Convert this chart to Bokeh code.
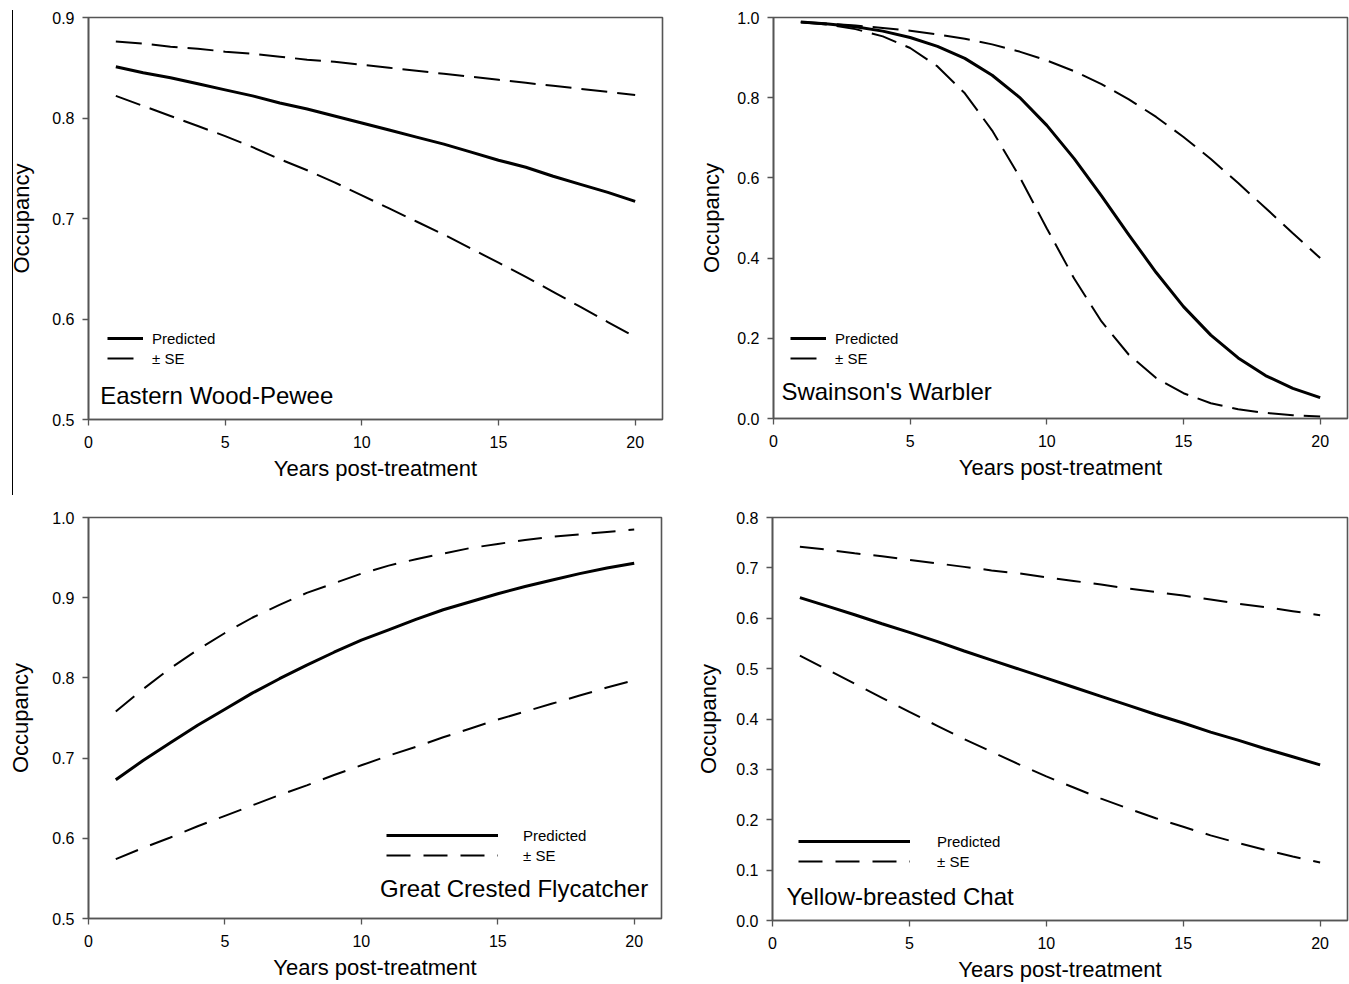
from bokeh.plotting import figure
from bokeh.models import Range1d, FixedTicker, PrintfTickFormatter, Legend, LegendItem, Label
from bokeh.layouts import column, row
from bokeh.embed import file_html
from bokeh.resources import INLINE

FONT = "Liberation Sans"

years = list(range(1, 21))

ewpe_pred = [0.851, 0.845, 0.840, 0.834, 0.828, 0.822, 0.815, 0.809, 0.802, 0.795,
             0.788, 0.781, 0.774, 0.766, 0.758, 0.751, 0.742, 0.734, 0.726, 0.717]
ewpe_hi = [0.876, 0.874, 0.871, 0.869, 0.866, 0.864, 0.861, 0.858, 0.856, 0.853,
           0.850, 0.847, 0.844, 0.841, 0.838, 0.835, 0.832, 0.829, 0.826, 0.823]
ewpe_lo = [0.822, 0.812, 0.802, 0.792, 0.782, 0.771, 0.759, 0.748, 0.736, 0.723,
           0.710, 0.697, 0.684, 0.670, 0.656, 0.642, 0.627, 0.612, 0.597, 0.582]

swwa_pred = [0.989, 0.984, 0.977, 0.966, 0.950, 0.928, 0.898, 0.856, 0.801, 0.731,
             0.648, 0.555, 0.458, 0.364, 0.279, 0.208, 0.151, 0.107, 0.075, 0.052]
swwa_hi = [0.989, 0.985, 0.980, 0.974, 0.967, 0.958, 0.947, 0.933, 0.915, 0.893,
           0.866, 0.834, 0.796, 0.752, 0.702, 0.647, 0.587, 0.525, 0.462, 0.400]
swwa_lo = [0.988, 0.982, 0.971, 0.953, 0.924, 0.878, 0.811, 0.718, 0.603, 0.474,
           0.349, 0.242, 0.159, 0.101, 0.063, 0.038, 0.023, 0.014, 0.008, 0.005]

gcfl_pred = [0.673, 0.697, 0.719, 0.741, 0.761, 0.781, 0.799, 0.816, 0.832, 0.847,
             0.860, 0.873, 0.885, 0.895, 0.905, 0.914, 0.922, 0.930, 0.937, 0.943]
gcfl_hi = [0.758, 0.786, 0.812, 0.835, 0.856, 0.875, 0.891, 0.906, 0.918, 0.930,
           0.940, 0.948, 0.955, 0.962, 0.967, 0.972, 0.976, 0.979, 0.982, 0.985]
gcfl_lo = [0.574, 0.588, 0.601, 0.615, 0.628, 0.641, 0.654, 0.666, 0.679, 0.691,
           0.703, 0.714, 0.726, 0.737, 0.748, 0.758, 0.768, 0.778, 0.788, 0.797]

ybch_pred = [0.641, 0.624, 0.607, 0.589, 0.572, 0.554, 0.535, 0.517, 0.499, 0.481,
             0.463, 0.445, 0.427, 0.409, 0.392, 0.374, 0.358, 0.341, 0.325, 0.309]
ybch_hi = [0.742, 0.736, 0.729, 0.723, 0.716, 0.709, 0.702, 0.695, 0.689, 0.681,
           0.674, 0.667, 0.659, 0.652, 0.645, 0.637, 0.629, 0.622, 0.614, 0.606]
ybch_lo = [0.526, 0.498, 0.470, 0.442, 0.414, 0.387, 0.360, 0.335, 0.310, 0.286,
           0.264, 0.242, 0.222, 0.203, 0.186, 0.169, 0.154, 0.140, 0.127, 0.115]

x_ticks = [0, 5, 10, 15, 20]
species = ["Eastern Wood-Pewee", "Swainson's Warbler", "Great Crested Flycatcher", "Yellow-breasted Chat"]
legend_labels = ["Predicted", "± SE"]
x_label = "Years post-treatment"
y_label = "Occupancy"

AX = "#555555"


def panel(pred, hi, lo, yr, yticks, name, name_xy, name_align,
          fw, fh, bl, br, bt, bb, dash, leg_loc, leg_gw, leg_standoff, ylab_standoff):
    p = figure(frame_width=fw, frame_height=fh,
               min_border_left=bl, min_border_right=br, min_border_top=bt, min_border_bottom=bb,
               x_range=Range1d(0, 21), y_range=Range1d(*yr),
               output_backend="svg", toolbar_location=None, tools="")
    p.xgrid.visible = False
    p.ygrid.visible = False
    p.outline_line_color = AX
    p.outline_line_width = 1.6
    p.background_fill_color = "white"
    for ax in (p.xaxis[0], p.yaxis[0]):
        ax.axis_line_color = AX
        ax.axis_line_width = 1.6
        ax.major_tick_line_color = AX
        ax.major_tick_line_width = 1.3
        ax.major_tick_out = 6
        ax.major_tick_in = 0
        ax.minor_tick_line_color = None
        ax.major_label_text_font = FONT
        ax.major_label_text_font_size = "16px"
        ax.major_label_text_color = "black"
        ax.axis_label_text_font = FONT
        ax.axis_label_text_font_size = "22px"
        ax.axis_label_text_font_style = "normal"
        ax.axis_label_text_color = "black"
    p.xaxis.ticker = FixedTicker(ticks=x_ticks)
    p.xaxis.formatter = PrintfTickFormatter(format="%d")
    p.yaxis.ticker = FixedTicker(ticks=yticks)
    p.yaxis.formatter = PrintfTickFormatter(format="%.1f")
    p.xaxis.axis_label = x_label
    p.yaxis.axis_label = y_label
    p.xaxis.major_label_standoff = 10
    p.yaxis.major_label_standoff = 8
    p.xaxis.axis_label_standoff = 5
    p.yaxis.axis_label_standoff = ylab_standoff

    r_hi = p.line(years, hi, line_color="black", line_width=2, line_dash=dash)
    p.line(years, lo, line_color="black", line_width=2, line_dash=dash)
    r_pred = p.line(years, pred, line_color="black", line_width=3)

    leg = Legend(items=[LegendItem(label=legend_labels[0], renderers=[r_pred]),
                        LegendItem(label=legend_labels[1], renderers=[r_hi])],
                 location=leg_loc, orientation="vertical",
                 glyph_width=leg_gw, glyph_height=20, label_height=20,
                 spacing=0, padding=0, margin=0, label_standoff=leg_standoff,
                 border_line_alpha=0, background_fill_alpha=0,
                 label_text_font=FONT, label_text_font_size="15px", label_text_color="black")
    p.add_layout(leg)

    p.add_layout(Label(x=name_xy[0], y=name_xy[1], text=name, text_font=FONT,
                       text_font_size="24px", text_color="black",
                       text_align=name_align, text_baseline="alphabetic"))
    return p


p1 = panel(ewpe_pred, ewpe_hi, ewpe_lo, (0.5, 0.9), [0.5, 0.6, 0.7, 0.8, 0.9], species[0],
           (0.43, 0.524), "left", 574, 402, 88, 18, 16, 82, "26 10", (19, 51), 36, 9, 15)
p2 = panel(swwa_pred, swwa_hi, swwa_lo, (0.0, 1.0), [0.0, 0.2, 0.4, 0.6, 0.8, 1.0], species[1],
           (0.29, 0.068), "left", 574, 401, 93, 2, 17, 82, "26 10", (17, 50), 36, 9, 10)
p3 = panel(gcfl_pred, gcfl_hi, gcfl_lo, (0.5, 1.0), [0.5, 0.6, 0.7, 0.8, 0.9, 1.0], species[2],
           (20.51, 0.537), "right", 573, 401, 88, 19, 17, 66, "24 13", (298, 53), 112, 25, 16)
p4 = panel(ybch_pred, ybch_hi, ybch_lo, (0.0, 0.8), [0.0, 0.1, 0.2, 0.3, 0.4, 0.5, 0.6, 0.7, 0.8], species[3],
           (0.51, 0.047), "left", 575, 403, 92, 2, 16, 65, "24 13", (26, 49), 112, 27, 12)

# thin vertical rule at the far left of the first panel (present in the source figure)
p1.border_fill_color = None
p1.styles = {"background-image": "linear-gradient(#000, #000)",
             "background-size": "1px 485px",
             "background-position": "12px 10px",
             "background-repeat": "no-repeat"}

layout = column(row(p1, p2), row(p3, p4))

open("out.html", "w").write(file_html(layout, INLINE))
